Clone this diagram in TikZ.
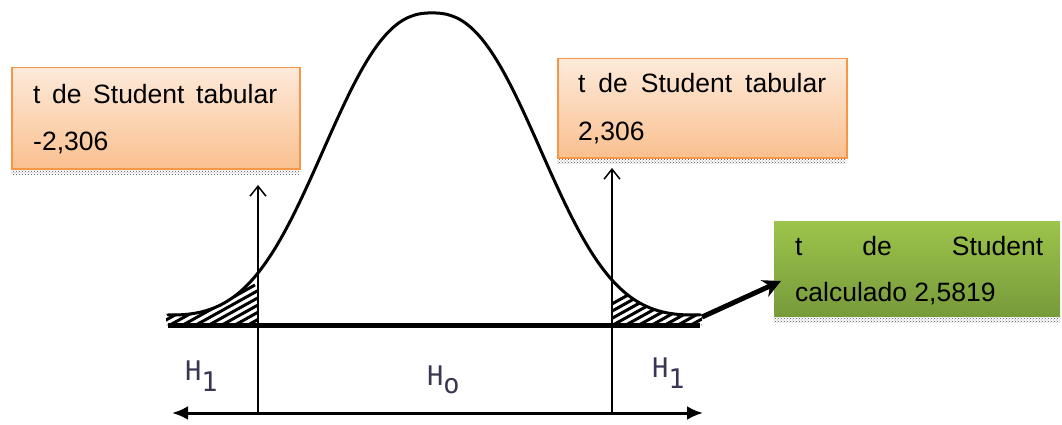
\documentclass[tikz,border=0pt]{standalone}
\usepackage{fontspec}
\setmainfont{Liberation Sans}
\newfontfamily\hfont{DejaVu Sans Mono}
\usetikzlibrary{arrows.meta,patterns}
\definecolor{orbord}{HTML}{F79646}
\definecolor{ortop}{HTML}{FDEADA}
\definecolor{orbot}{HTML}{FAC090}
\definecolor{grtop}{HTML}{9DC44B}
\definecolor{grbot}{HTML}{779A3B}
\definecolor{hcol}{HTML}{3A3550}
\begin{document}
\begin{tikzpicture}[x=1pt,y=-1pt,
  declare function={gy(\t)=325-312*exp(-((abs(\t-432)+0.01)/136)^2.43)-8*(abs(\t-432)/264)^4;},
  obox/.style={draw=orbord,line width=1.5pt,top color=ortop,bottom color=orbot,inner sep=0pt,anchor=north west},
  gbox/.style={top color=grtop,bottom color=grbot,inner sep=0pt,anchor=north west},
  shadowstrip/.style={pattern=crosshatch dots,pattern color=black!70},
  txt/.style={font=\fontsize{26.5}{31}\selectfont,anchor=base west,inner sep=0pt},
  hlab/.style={font=\hfont\fontsize{27}{31}\selectfont,text=hcol,anchor=base west,inner sep=0pt},
  curveline/.style={line width=3pt,line join=round,line cap=round},
  hatchline/.style={line width=3pt},
  thinarrow/.style={line width=1.5pt,-{Straight Barb[length=10pt,width=16pt,line width=1.5pt]}},
  axisarrow/.style={line width=3pt,{Latex[length=16pt,width=14pt]}-{Latex[length=16pt,width=14pt]}},
  thickarrow/.style={line width=5pt,-{Stealth[length=18pt,width=18pt]}}
]
\useasboundingbox (0,0) rectangle (1062,425);

% boxes
\fill[shadowstrip] (11,169) rectangle (299,174);
\node[obox,minimum width=288pt,minimum height=101pt] (lbox) at (11,67) {};
\fill[shadowstrip] (557,158) rectangle (846,163);
\node[obox,minimum width=289pt,minimum height=99pt] (rbox) at (557,58) {};
\fill[shadowstrip] (774,317) rectangle (1060,322);
\node[gbox,minimum width=286pt,minimum height=95pt] (gbox) at (774,221) {};

% texts in boxes
\node[txt] (l1) at (33,103) {\makebox[244pt][s]{t de Student tabular}};
\node[txt] (l2) at (33,150) {-2,306};
\node[txt] (r1) at (578,93) {\makebox[248pt][s]{t de Student tabular}};
\node[txt] (r2) at (578,140) {2,306};
\node[txt] (g1) at (795,255) {\makebox[248pt][s]{t de Student}};
\node[txt] (g2) at (795,301) {calculado 2,5819};

% hatching of tails
\begin{scope}
  \clip plot[domain=166:258,samples=60] (\x,{gy(\x)-1}) -- (258,325) -- (166,325) -- cycle;
  \foreach \s in {100,113,...,270} \draw[hatchline] (\s,335) -- ++(90,-50);
\end{scope}
\begin{scope}
  \clip plot[domain=612:702,samples=60] (\x,{gy(\x)-1}) -- (702,325) -- (612,325) -- cycle;
  \foreach \s in {556,569,...,710} \draw[hatchline] (\s,335) -- ++(90,-50);
\end{scope}

% curve and baseline
\draw[curveline] plot[domain=168:700,samples=220] (\x,{gy(\x)});
\coordinate (bl) at (168,325);
\coordinate (br) at (700,325);
\draw[line width=5pt] (bl) -- (br);

% vertical lines with arrows
\coordinate (lbot) at (258,413);
\coordinate (ltop) at (258,185);
\coordinate (rbot) at (612,413);
\coordinate (rtop) at (612,168);
\draw[thinarrow] (lbot) -- (ltop);
\draw[thinarrow] (rbot) -- (rtop);

% lower axis
\coordinate (al) at (172,413);
\coordinate (ar) at (703,413);
\draw[axisarrow] (al) -- (ar);

% thick arrow to green box
\coordinate (ts) at (702,317);
\coordinate (te) at (781,281);
\draw[thickarrow] (ts) -- (te);

% H labels
\node[hlab] (h1l) at (185,380) {H\raisebox{-11pt}{1}};
\node[hlab] (h0) at (427,385) {H\raisebox{-8pt}{o}};
\node[hlab] (h1r) at (652,377) {H\raisebox{-11pt}{1}};
\end{tikzpicture}
\end{document}
